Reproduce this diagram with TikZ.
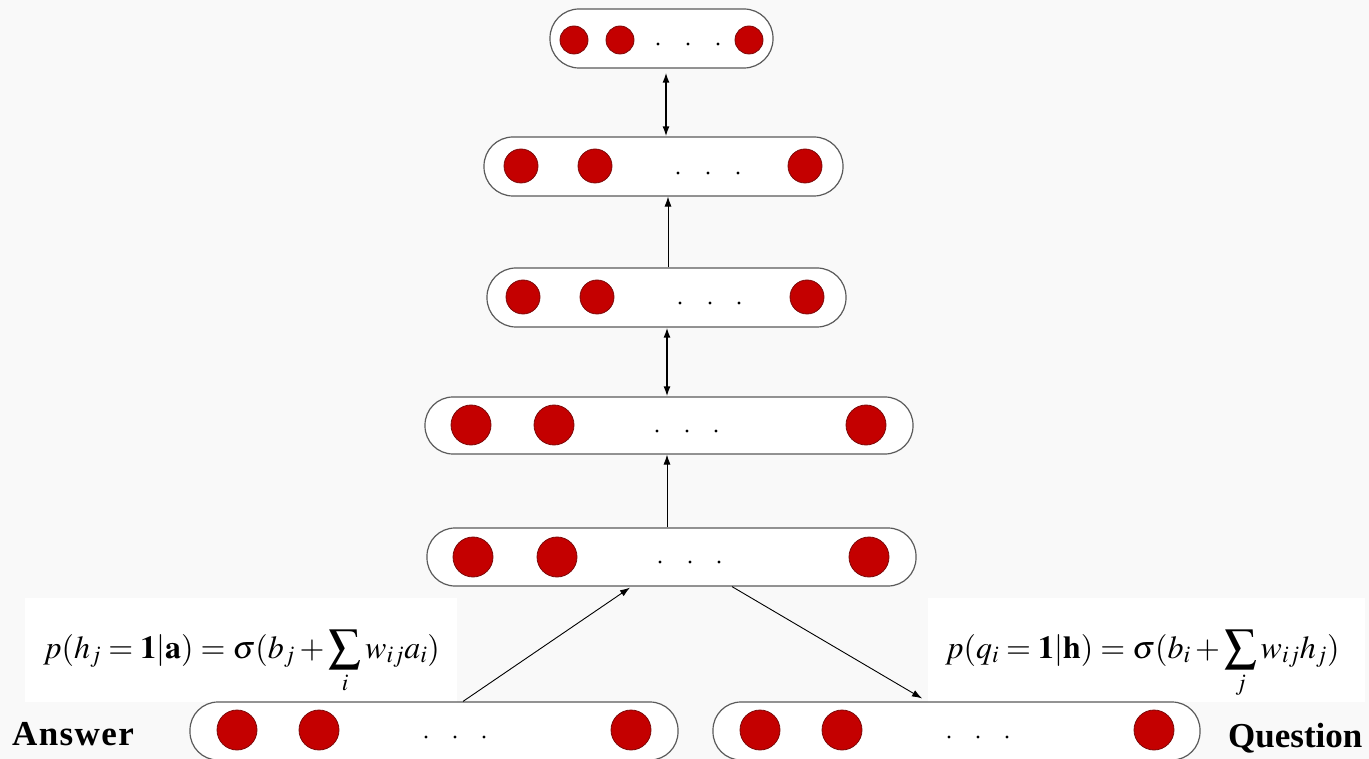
\documentclass[tikz,border=0pt]{standalone}
\usepackage{mathptmx}
\usepackage{fontspec}
\setmainfont{Liberation Serif}
\usetikzlibrary{arrows.meta}
\definecolor{bgc}{RGB}{249,249,249}
\definecolor{circfill}{RGB}{196,0,0}
\definecolor{circedge}{RGB}{125,10,10}
\definecolor{boxline}{RGB}{90,90,90}
\tikzset{
  layer/.style={draw=boxline, line width=1.2pt, fill=white, inner sep=0pt,
    rounded corners=28pt, minimum height=58pt},
  unit/.style={circle, fill=circfill, draw=circedge, line width=0.8pt, inner sep=0pt},
  small/.style={unit, minimum size=28pt},
  mid/.style={unit, minimum size=34pt},
  big/.style={unit, minimum size=40pt},
  conn/.style={line width=0.9pt, -{Latex[length=10pt,width=7pt]}},
  dconn/.style={line width=1.6pt, {Latex[length=10pt,width=7pt]}-{Latex[length=10pt,width=7pt]}},
  formula/.style={inner sep=0pt, font=\fontsize{32}{38}\selectfont},
  side/.style={font=\fontsize{35}{40}\selectfont\bfseries}
}
\begin{document}
\begin{tikzpicture}[x=1pt,y=-1pt]
\fill[bgc] (0,0) rectangle (1369,759);
\useasboundingbox (0,0) rectangle (1369,759);

% white backdrops of the formulas
\fill[white] (25,598) rectangle (457,702);
\fill[white] (928,598) rectangle (1365,702);

% formulas
\node[formula, anchor=base west] (fa) at (43,658)
  {$p(h_j = \mathbf{1}|\mathbf{a}) = \sigma(b_j + \displaystyle\sum_i w_{ij}a_i)$};
\node[formula, anchor=base west] (fq) at (945,658)
  {$p(q_i = \mathbf{1}|\mathbf{h}) = \sigma(b_i + \displaystyle\sum_j w_{ij}h_j)$};

% layers
\node[layer, minimum width=223pt, minimum height=59pt, rounded corners=29pt] (T) at (661.5,38.5) {};
\node[layer, minimum width=359pt, minimum height=59pt, rounded corners=29pt] (L2) at (663.5,166.5) {};
\node[layer, minimum width=359pt, minimum height=59pt, rounded corners=29pt] (L3) at (666.5,297.5) {};
\node[layer, minimum width=488pt, minimum height=57pt] (L4) at (669,425.5) {};
\node[layer, minimum width=489pt] (L5) at (671.5,557) {};
\node[layer, minimum width=488pt] (BL) at (434,731) {};
\node[layer, minimum width=487pt] (BR) at (956.5,731) {};

% units top
\node[small] (t1) at (574,40) {};
\node[small] (t2) at (620,40) {};
\node[small] (t3) at (749,40) {};
\foreach \x in {658,688,718} \fill (\x,44) circle (1.6pt);
% layer 2
\node[mid] (a1) at (521,166) {};
\node[mid] (a2) at (595,166) {};
\node[mid] (a3) at (805,166) {};
\foreach \x in {678,708,738} \fill (\x,173) circle (1.6pt);
% layer 3
\node[mid] (b1) at (523,297) {};
\node[mid] (b2) at (597,297) {};
\node[mid] (b3) at (807,297) {};
\foreach \x in {680,710,739} \fill (\x,303) circle (1.6pt);
% layer 4
\node[big] (c1) at (471,425) {};
\node[big] (c2) at (554,425) {};
\node[big] (c3) at (866,425) {};
\foreach \x in {657,687,716} \fill (\x,431) circle (1.6pt);
% layer 5
\node[big] (d1) at (473,557) {};
\node[big] (d2) at (557,557) {};
\node[big] (d3) at (869,557) {};
\foreach \x in {660,690,719} \fill (\x,562) circle (1.6pt);
% bottom left
\node[big] (e1) at (237,730) {};
\node[big] (e2) at (319,730) {};
\node[big] (e3) at (631,730) {};
\foreach \x in {426,455,484} \fill (\x,737) circle (1.6pt);
% bottom right
\node[big] (f1) at (760,730) {};
\node[big] (f2) at (842,730) {};
\node[big] (f3) at (1154,730) {};
\foreach \x in {949,978,1007} \fill (\x,737) circle (1.6pt);

% connectors
\draw[dconn] ([xshift=4.5pt,yshift=-4pt]T.south) -- ([xshift=2.5pt]L2.north);
\draw[conn] ([xshift=1.5pt]L3.north) -- ([xshift=4.5pt]L2.south);
\draw[dconn] ([xshift=0.5pt]L3.south) -- ([xshift=-2pt]L4.north);
\draw[conn] ([xshift=-4.5pt]L5.north) -- ([xshift=-2pt]L4.south);
\draw[conn] ([xshift=29pt]BL.north) -- ([xshift=-41.5pt,yshift=-1pt]L5.south);
\draw[conn] ([xshift=60.5pt]L5.south) -- ([xshift=-34.5pt,yshift=3pt]BR.north);

% side labels
\node[side, anchor=base west, inner sep=0pt] (ans) at (12,745) {\addfontfeature{LetterSpace=4}Answer};
\node[side, anchor=base west, inner sep=0pt] (que) at (1228,747) {Question};
\end{tikzpicture}
\end{document}
